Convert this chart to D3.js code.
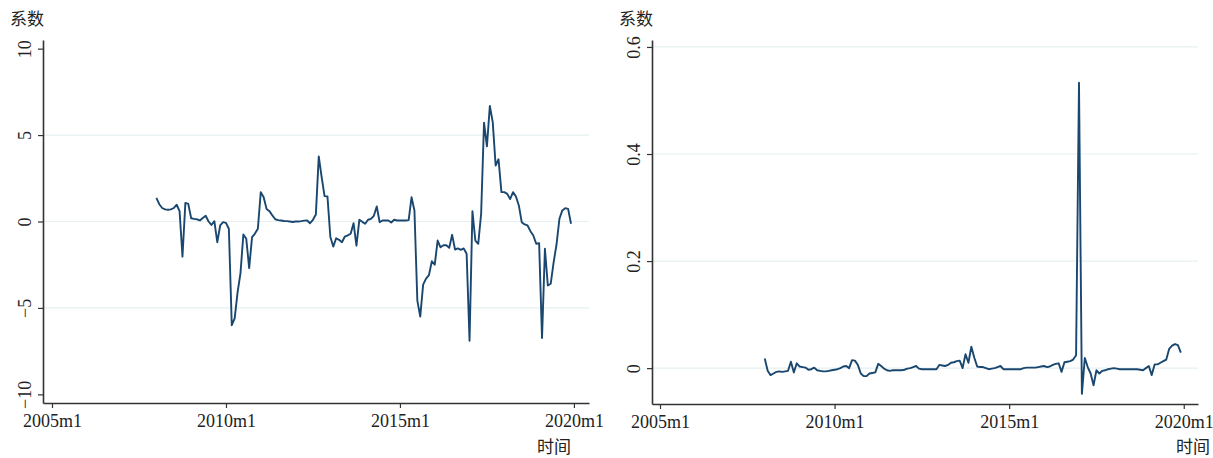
<!DOCTYPE html>
<html>
<head>
<meta charset="utf-8">
<script src="https://cdn.jsdelivr.net/npm/d3@7"></script>
<style>
    body { margin: 0; background: #fff; }
    svg { display: block; }
</style>
</head>
<body>
<svg id="chart" width="1213" height="458"></svg>
<script>
// monthly series, 2008m1 .. 2019m12 (month index counted from 2005m1)
const startMonth = 36;

const leftValues = [
    1.37, 1.0, 0.78, 0.7, 0.68, 0.7, 0.78, 0.97, 0.6, -2.03, 1.08, 1.02,
    0.19, 0.15, 0.13, 0.06, 0.2, 0.33, 0.0, -0.2, 0.02, -1.2, -0.23, -0.04,
    -0.08, -0.42, -6.0, -5.6, -4.1, -3.0, -0.75, -1.0, -2.7, -0.9, -0.7, -0.42,
    1.7, 1.4, 0.73, 0.6, 0.35, 0.13, 0.08, 0.06, 0.03, 0.02, 0.0, -0.03,
    0.0, 0.0, 0.02, 0.05, 0.06, -0.1, 0.1, 0.4, 3.77, 2.57, 1.47, 1.45,
    -0.9, -1.45, -0.97, -1.06, -1.2, -0.87, -0.8, -0.71, -0.1, -1.4, 0.1, -0.02,
    -0.13, 0.1, 0.15, 0.33, 0.87, -0.04, 0.06, 0.06, 0.06, -0.06, 0.1, 0.06,
    0.06, 0.06, 0.06, 0.08, 1.4, 0.64, -4.58, -5.5, -3.65, -3.3, -3.1, -2.3,
    -2.5, -1.1, -1.49, -1.37, -1.37, -1.52, -0.77, -1.62, -1.56, -1.64, -1.56, -1.87,
    -6.9, 0.6, -1.1, -1.29, 0.45, 5.72, 4.35, 6.68, 5.75, 3.24, 3.6, 1.7,
    1.7, 1.6, 1.3, 1.7, 1.45, 0.93, -0.04, -0.17, -0.23, -0.56, -0.81, -1.29,
    -1.26, -6.74, -1.58, -3.7, -3.6, -2.36, -1.33, 0.16, 0.64, 0.77, 0.73, -0.13
];

const rightValues = [
    0.018, -0.005, -0.013, -0.01, -0.007, -0.006, -0.007, -0.006, -0.005, 0.012, -0.008, 0.009,
    0.003, 0.002, 0.001, -0.003, -0.002, 0.001, -0.004, -0.005, -0.006, -0.006, -0.005, -0.004,
    -0.003, -0.002, 0.0, 0.003, 0.004, 0.0, 0.015, 0.014, 0.006, -0.01, -0.015, -0.015,
    -0.01, -0.009, -0.008, 0.008, 0.004, -0.001, -0.004, -0.005, -0.004, -0.004, -0.004, -0.004,
    -0.003, -0.001, 0.0, 0.002, 0.004, -0.001, -0.002, -0.002, -0.002, -0.002, -0.002, -0.002,
    0.006, 0.005, 0.004, 0.006, 0.01, 0.011, 0.013, 0.014, 0.0, 0.026, 0.01, 0.04,
    0.02, 0.003, 0.002, 0.002, 0.0, -0.002, -0.001, 0.0, 0.002, 0.004, -0.002, -0.002,
    -0.002, -0.002, -0.002, -0.002, -0.002, 0.0, 0.001, 0.001, 0.001, 0.001, 0.002, 0.003,
    0.004, 0.002, 0.003, 0.006, 0.008, 0.009, -0.007, 0.011, 0.012, 0.013, 0.016, 0.024,
    0.533, -0.048, 0.019, 0.002, -0.01, -0.032, -0.004, -0.01, -0.005, -0.004, -0.002, -0.001,
    0.0, -0.001, -0.002, -0.002, -0.002, -0.002, -0.002, -0.002, -0.002, -0.003, -0.004, 0.0,
    0.004, -0.013, 0.007, 0.007, 0.01, 0.013, 0.016, 0.036, 0.042, 0.045, 0.043, 0.029
];

const xTickMonths = [0, 60, 120, 180];
const xTickLabels = ["2005m1", "2010m1", "2015m1", "2020m1"];
const leftYTicks = [-10, -5, 0, 5, 10];
const leftGrid = [-5, 0, 5];
const rightYTicks = [0, 0.2, 0.4, 0.6];
const rightGrid = [0, 0.2, 0.4, 0.6];

const yTitle = "系数";
const xTitle = "时间";

const lineColor = "#1a476f";
const gridColor = "#e6eff2";
const axisColor = "#333";

const svg = d3.select("#chart");

function drawPanel(cfg) {
    const g = svg.append("g");

    const x = d3.scaleLinear()
        .domain(cfg.xDomain)
        .range([cfg.left, cfg.right]);

    const y = d3.scaleLinear()
        .domain(cfg.yDomain)
        .range([cfg.bottom, cfg.top]);

    // grid lines
    g.selectAll(".grid")
        .data(cfg.grid)
        .enter()
        .append("line")
        .attr("x1", cfg.left)
        .attr("x2", cfg.right)
        .attr("y1", d => y(d))
        .attr("y2", d => y(d))
        .attr("stroke", gridColor)
        .attr("stroke-width", 1.2);

    // y axis
    const yAxis = g.append("g")
        .attr("transform", `translate(${cfg.left},0)`)
        .call(d3.axisLeft(y).tickValues(cfg.yTicks).tickSize(5).tickSizeOuter(0)
            .tickFormat(cfg.yFormat));
    yAxis.select(".domain").attr("stroke", axisColor).attr("stroke-width", 1.6);
    yAxis.selectAll(".tick line").attr("stroke", axisColor).attr("stroke-width", 1.2);
    yAxis.selectAll(".tick text")
        .attr("x", null).attr("dy", null)
        .attr("transform", "translate(-12,0) rotate(-90)")
        .attr("text-anchor", "middle")
        .attr("fill", "#222")
        .style("font-family", "'Liberation Serif', 'DejaVu Serif', serif")
        .style("font-size", "18px");

    // x axis
    const xAxis = g.append("g")
        .attr("transform", `translate(0,${cfg.bottom})`)
        .call(d3.axisBottom(x).tickValues(xTickMonths).tickSize(5).tickSizeOuter(0)
            .tickFormat((d, i) => xTickLabels[i]));
    xAxis.select(".domain").attr("stroke", axisColor).attr("stroke-width", 1.6);
    xAxis.selectAll(".tick line").attr("stroke", axisColor).attr("stroke-width", 1.2);
    xAxis.selectAll(".tick text")
        .attr("y", 10)
        .attr("dy", "0.8em")
        .attr("fill", "#222")
        .style("font-family", "'Liberation Serif', 'DejaVu Serif', serif")
        .style("font-size", "18px");

    // series line
    const line = d3.line()
        .x((d, i) => x(startMonth + i))
        .y(d => y(d));

    g.append("path")
        .datum(cfg.values)
        .attr("fill", "none")
        .attr("stroke", lineColor)
        .attr("stroke-width", 1.9)
        .attr("stroke-linejoin", "round")
        .attr("d", line);

    // titles
    g.append("text")
        .attr("x", cfg.left - 33)
        .attr("y", 25)
        .attr("fill", "#222")
        .style("font-family", "'Noto Sans CJK SC', sans-serif")
        .style("font-size", "17px")
        .text(yTitle);

    g.append("text")
        .attr("x", cfg.xTitleEnd)
        .attr("y", 453)
        .attr("text-anchor", "end")
        .attr("fill", "#222")
        .style("font-family", "'Noto Sans CJK SC', sans-serif")
        .style("font-size", "17px")
        .text(xTitle);
}

// left panel
drawPanel({
    values: leftValues,
    left: 43, right: 589, top: 40, bottom: 403,
    xDomain: [-3.1, 185.2],
    yDomain: [-10.5, 10.5],
    yTicks: leftYTicks,
    grid: leftGrid,
    yFormat: d3.format("d"),
    xTitleEnd: 571
});

// right panel
drawPanel({
    values: rightValues,
    left: 652, right: 1198, top: 40, bottom: 404,
    xDomain: [-2.75, 184.9],
    yDomain: [-0.067, 0.613],
    yTicks: rightYTicks,
    grid: rightGrid,
    yFormat: d => d === 0 ? "0" : d3.format(".1f")(d),
    xTitleEnd: 1210
});
</script>
</body>
</html>
